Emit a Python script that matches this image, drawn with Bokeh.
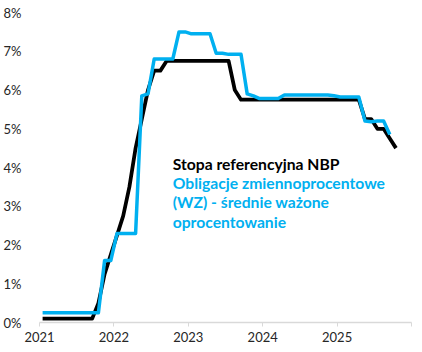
from bokeh.plotting import figure
from bokeh.models import ColumnDataSource, FixedTicker, Label, Range1d
from bokeh.embed import file_html
from bokeh.resources import INLINE

# Monthly data, Jan 2021 onwards (percent)
nbp_rate = [
    0.1, 0.1, 0.1, 0.1, 0.1, 0.1, 0.1, 0.1, 0.1, 0.5, 1.25, 1.75,          # 2021
    2.25, 2.75, 3.5, 4.5, 5.25, 6.0, 6.5, 6.5, 6.75, 6.75, 6.75, 6.75,    # 2022
    6.75, 6.75, 6.75, 6.75, 6.75, 6.75, 6.75, 6.0, 5.75, 5.75, 5.75, 5.75,  # 2023
    5.75, 5.75, 5.75, 5.75, 5.75, 5.75, 5.75, 5.75, 5.75, 5.75, 5.75, 5.75,  # 2024
    5.75, 5.75, 5.75, 5.75, 5.25, 5.25, 5.0, 5.0, 4.75, 4.5,              # 2025
]
wz_bonds = [
    0.25, 0.25, 0.25, 0.25, 0.25, 0.25, 0.25, 0.25, 0.25, 0.25, 1.6, 1.6,  # 2021
    2.3, 2.3, 2.3, 2.3, 5.85, 5.9, 6.8, 6.8, 6.8, 6.8, 7.5, 7.5,           # 2022
    7.45, 7.45, 7.45, 7.45, 6.95, 6.95, 6.92, 6.92, 6.92, 5.9, 5.85, 5.78,  # 2023
    5.78, 5.78, 5.78, 5.87, 5.87, 5.87, 5.87, 5.87, 5.87, 5.87, 5.87, 5.85,  # 2024
    5.82, 5.82, 5.82, 5.82, 5.2, 5.18, 5.2, 5.2, 4.85,                    # 2025
]
start_year = 2021
year_ticks = [2021, 2022, 2023, 2024, 2025, 2026]
y_ticks = [0, 1, 2, 3, 4, 5, 6, 7, 8]

label_nbp = "Stopa referencyjna NBP"
label_wz = ["Obligacje zmiennoprocentowe", "(WZ) - średnie ważone", "oprocentowanie"]

def month_x(n):
    return [start_year + (i + 0.5) / 12 for i in range(n)]

src_nbp = ColumnDataSource(dict(x=month_x(len(nbp_rate)), y=nbp_rate))
src_wz = ColumnDataSource(dict(x=month_x(len(wz_bonds)), y=wz_bonds))

FONT = "Lato"
BLUE = "#00b0f0"

p = figure(width=422, height=352, output_backend="svg", toolbar_location=None,
           x_range=Range1d(2021, 2026), y_range=Range1d(0, 8),
           min_border_left=38, min_border_right=11, min_border_top=12, min_border_bottom=30)
p.outline_line_color = None
p.grid.grid_line_color = None
p.background_fill_color = "white"
p.border_fill_color = "white"

p.line("x", "y", source=src_nbp, line_color="black", line_width=3.75, line_join="round")
p.line("x", "y", source=src_wz, line_color=BLUE, line_width=3.5, line_join="round")

# x axis
p.xaxis.ticker = FixedTicker(ticks=year_ticks)
p.xaxis.major_label_overrides = {2026: ""}
p.xaxis.axis_line_color = "#d9d9d9"
p.xaxis.axis_line_width = 1.5
p.xaxis.major_tick_line_color = "#d9d9d9"
p.xaxis.major_tick_out = 4
p.xaxis.major_tick_in = 0
p.xaxis.minor_tick_line_color = None
p.xaxis.major_label_text_font = FONT
p.xaxis.major_label_text_font_size = "13px"
p.xaxis.major_label_text_color = "#262626"
p.xaxis.major_label_standoff = 5

# y axis
p.yaxis.ticker = FixedTicker(ticks=y_ticks)
p.yaxis.major_label_overrides = {t: f"{t}%" for t in y_ticks}
p.yaxis.axis_line_color = None
p.yaxis.major_tick_line_color = None
p.yaxis.minor_tick_line_color = None
p.yaxis.major_label_text_font = FONT
p.yaxis.major_label_text_font_size = "13px"
p.yaxis.major_label_text_color = "#262626"
p.yaxis.major_label_standoff = 12

# legend-like annotations
lx = 2022.79
p.add_layout(Label(x=lx, y=4.1, text=label_nbp, text_font=FONT, text_font_style="bold",
                   text_font_size="15.7px", text_color="black", text_baseline="alphabetic"))
for i, t in enumerate(label_wz):
    p.add_layout(Label(x=lx, y=3.6 - i * 0.5, text=t, text_font=FONT, text_font_style="bold",
                       text_font_size="15.7px", text_color=BLUE, text_baseline="alphabetic"))

open("out.html", "w").write(file_html(p, INLINE))
